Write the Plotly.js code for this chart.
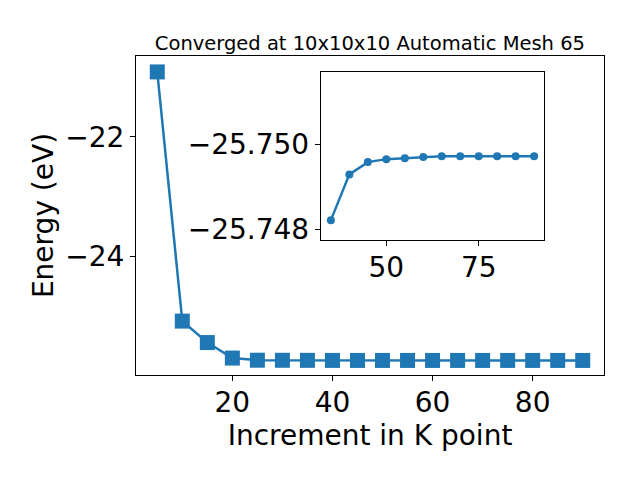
<!DOCTYPE html>
<html>
<head>
<meta charset="utf-8">
<script src="https://cdn.plot.ly/plotly-3.0.1.min.js"></script>
<style>html,body{margin:0;padding:0;background:#fff;}#chart{width:640px;height:480px;}</style>
</head>
<body>
<div id="chart"></div>
<script>
// Main data: K point increment vs total energy (eV)
const kpoints = [5, 10, 15, 20, 25, 30, 35, 40, 45, 50, 55, 60, 65, 70, 75, 80, 85, 90];
const energies = [-20.91, -25.09, -25.45, -25.71, -25.746, -25.747, -25.74821, -25.74929, -25.74958, -25.74965, -25.74967, -25.7497, -25.74972, -25.74972, -25.74972, -25.74972, -25.74972, -25.74972];
// Inset data (zoom on converged region)
const insetK = [35, 40, 45, 50, 55, 60, 65, 70, 75, 80, 85, 90];
const insetE = [-25.74821, -25.74929, -25.74958, -25.74965, -25.74967, -25.7497, -25.74972, -25.74972, -25.74972, -25.74972, -25.74972, -25.74972];
const mainXTicks = [20, 40, 60, 80];
const mainYTicks = [-22, -24];
const mainYTickText = ['\u221222', '\u221224'];
const insetXTicks = [50, 75];
const insetYTicks = [-25.750, -25.748];
const insetYTickText = ['\u221225.750', '\u221225.748'];

const blue = '#1f77b4';
const font = {family: 'DejaVu Sans', color: '#000'};

const traces = [
  {x: kpoints, y: energies, xaxis: 'x', yaxis: 'y', mode: 'lines+markers',
   line: {color: blue, width: 2.5}, marker: {symbol: 'square', size: 15, color: blue}},
  {x: insetK, y: insetE, xaxis: 'x2', yaxis: 'y2', mode: 'lines+markers',
   line: {color: blue, width: 2.5}, marker: {symbol: 'circle', size: 8, color: blue}}
];

const axCommon = {showgrid: false, zeroline: false, showline: true, mirror: true, linecolor: '#000', linewidth: 1,
  ticks: 'outside', ticklen: 5, tickwidth: 1, tickcolor: '#000'};

const layout = {
  width: 640, height: 480, showlegend: false,
  paper_bgcolor: '#fff', plot_bgcolor: '#fff',
  margin: {l: 136, r: 36, t: 56, b: 105},
  font: font,
  title: {text: 'Converged at 10x10x10 Automatic Mesh 65', font: {family: 'DejaVu Sans', size: 19.5, color: '#000'},
    x: 0.578, xanchor: 'center', y: 1 - 43/480, yanchor: 'middle', yref: 'container'},
  xaxis: Object.assign({}, axCommon, {domain: [0, 1], range: [0.75, 94.25], tickvals: mainXTicks,
    tickfont: {size: 28}, ticklabelstandoff: -3, title: {text: 'Increment in K point', font: {size: 28}, standoff: 0}}),
  yaxis: Object.assign({}, axCommon, {domain: [0, 1], range: [-25.994, -20.643], tickvals: mainYTicks, ticktext: mainYTickText,
    tickfont: {size: 28}, title: {text: 'Energy (eV)', font: {size: 28}, standoff: 3}}),
  xaxis2: Object.assign({}, axCommon, {domain: [0.3947, 0.8724], anchor: 'y2', range: [32.25, 92.75], tickvals: insetXTicks,
    tickfont: {size: 28}, ticklabelstandoff: -3}),
  yaxis2: Object.assign({}, axCommon, {domain: [0.423, 0.949], anchor: 'x2', range: [-25.74774, -25.7517], tickvals: insetYTicks,
    ticktext: insetYTickText, tickfont: {size: 28}})
};

Plotly.newPlot('chart', traces, layout, {displayModeBar: false, staticPlot: true});
</script>
</body>
</html>
